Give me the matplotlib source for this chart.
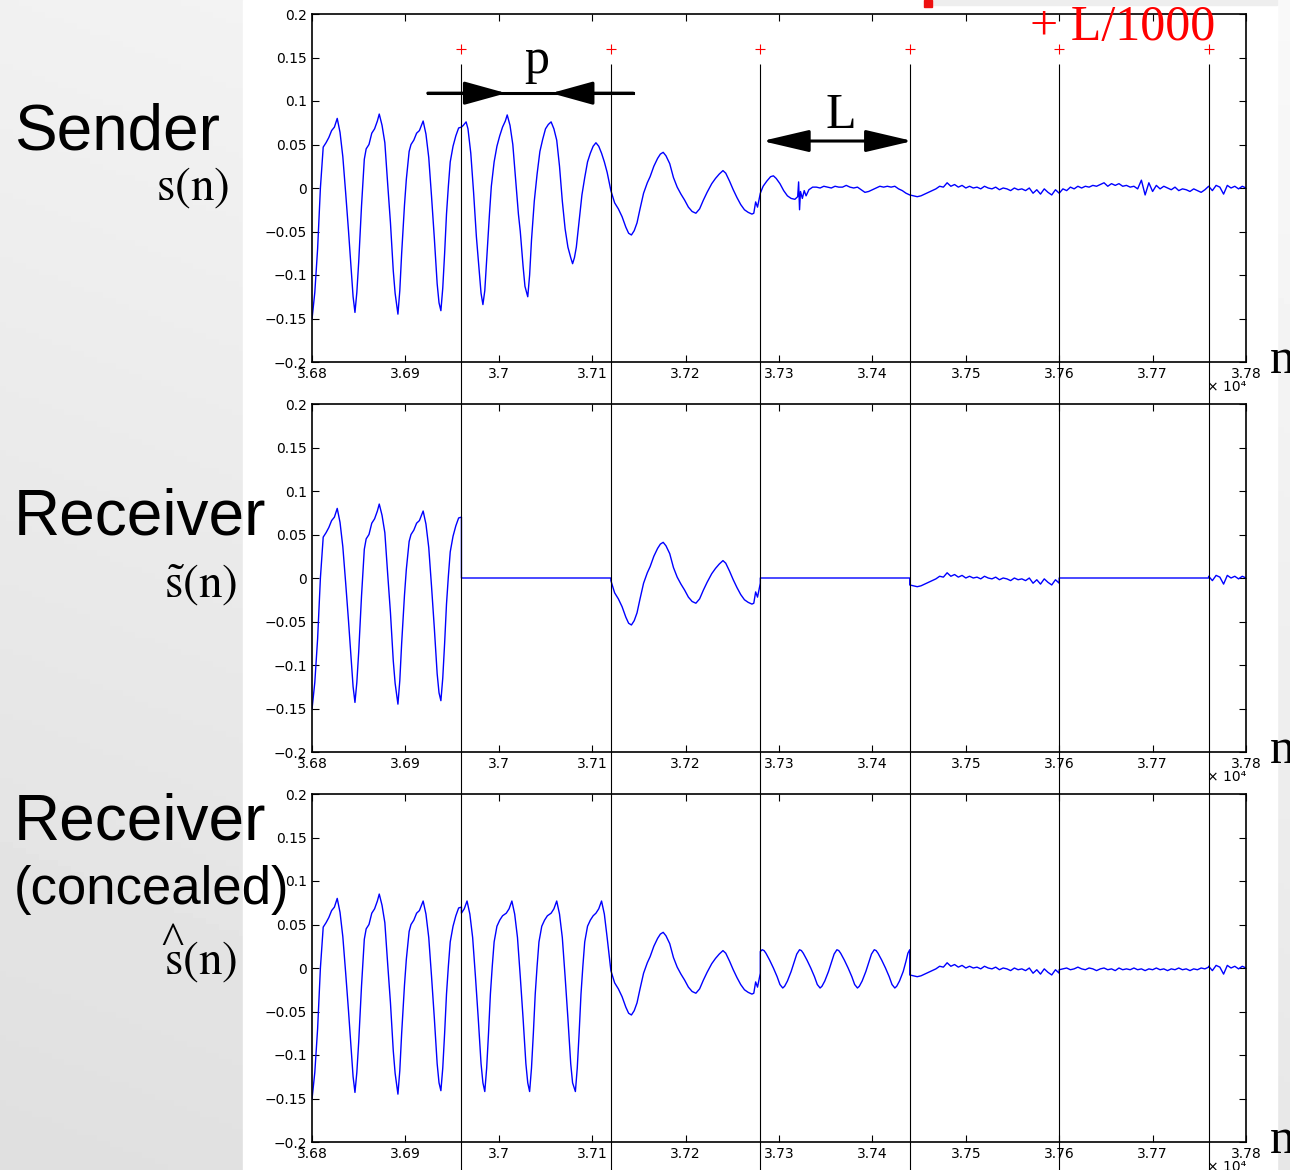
import numpy as np
import matplotlib
matplotlib.use('Agg')
import matplotlib.pyplot as plt
from matplotlib.patches import Rectangle

plt.rcParams['mathtext.fontset'] = 'stix'

# frame borders in samples, frames 1, 3 and 5 are lost in transmission
frame_edges = [36800, 36960, 37120, 37280, 37440, 37600, 37760, 37800]
lost_frames = [1, 3, 5]

# sender signal s(n), voiced part
voiced_n = [36800, 36803, 36806, 36809, 36812, 36815, 36818, 36821, 36824, 36827,
            36830, 36833, 36836, 36839, 36842, 36844, 36846, 36848, 36850, 36853,
            36856, 36858, 36861, 36864, 36867, 36870, 36872, 36875, 36878, 36881,
            36884, 36887, 36889, 36892, 36894, 36896, 36899, 36901, 36904, 36906,
            36909, 36912, 36915, 36919, 36922, 36925, 36928, 36931, 36934, 36936,
            36938, 36940, 36942, 36944, 36946, 36948, 36951, 36954, 36957, 36960,
            36962, 36965, 36967, 36970, 36973, 36976, 36979, 36981, 36983, 36985,
            36987, 36990, 36992, 36995, 36998, 37001, 37004, 37007, 37009, 37012,
            37015, 37018, 37021, 37023, 37026, 37028, 37031, 37033, 37035, 37038,
            37041, 37044, 37047, 37050, 37053, 37056, 37059, 37062, 37065, 37068,
            37071, 37074, 37077, 37079, 37081, 37083, 37086, 37089, 37092, 37095,
            37098, 37101, 37104, 37107, 37110, 37113, 37116, 37120, 37124, 37128,
            37132, 37136, 37139, 37142, 37145, 37148, 37151, 37155, 37159, 37162,
            37166, 37170, 37173, 37176, 37179, 37183, 37187, 37191, 37195, 37199,
            37203, 37207, 37211, 37215, 37219, 37223, 37228, 37232, 37236, 37240,
            37243, 37247, 37251, 37255, 37259, 37263, 37267, 37271, 37273, 37275,
            37277, 37280, 37283, 37287, 37291, 37294, 37297, 37301, 37305, 37309,
            37313, 37317, 37320, 37321, 37322, 37323, 37325, 37327, 37329, 37332,
            37336]
voiced_y = [-0.151, -0.120, -0.070, 0.000, 0.047, 0.052, 0.058, 0.066, 0.070, 0.080,
            0.064, 0.036, -0.005, -0.048, -0.095, -0.125, -0.143, -0.120, -0.085, -0.021,
            0.033, 0.045, 0.050, 0.063, 0.068, 0.077, 0.085, 0.072, 0.052, 0.005,
            -0.040, -0.095, -0.121, -0.145, -0.118, -0.075, -0.020, 0.010, 0.042, 0.050,
            0.055, 0.063, 0.066, 0.077, 0.062, 0.035, -0.010, -0.058, -0.110, -0.132,
            -0.141, -0.115, -0.075, -0.030, 0.002, 0.030, 0.048, 0.060, 0.069, 0.070,
            0.072, 0.076, 0.068, 0.040, -0.005, -0.056, -0.095, -0.121, -0.134, -0.118,
            -0.083, -0.030, 0.002, 0.030, 0.048, 0.060, 0.070, 0.077, 0.084, 0.072,
            0.050, 0.010, -0.030, -0.050, -0.090, -0.113, -0.125, -0.100, -0.060, -0.015,
            0.016, 0.042, 0.056, 0.068, 0.073, 0.076, 0.068, 0.055, 0.025, -0.015,
            -0.047, -0.068, -0.080, -0.087, -0.080, -0.068, -0.038, -0.008, 0.012, 0.030,
            0.040, 0.048, 0.052, 0.048, 0.040, 0.030, 0.018, -0.003, -0.017, -0.024,
            -0.033, -0.045, -0.052, -0.054, -0.049, -0.040, -0.025, -0.006, 0.006, 0.013,
            0.025, 0.034, 0.039, 0.041, 0.037, 0.028, 0.012, 0.001, -0.007, -0.014,
            -0.022, -0.027, -0.029, -0.024, -0.014, -0.005, 0.005, 0.011, 0.016, 0.020,
            0.017, 0.008, -0.002, -0.011, -0.019, -0.025, -0.028, -0.030, -0.029, -0.016,
            -0.022, -0.006, 0.002, 0.008, 0.013, 0.014, 0.011, 0.005, -0.003, -0.009,
            -0.012, -0.013, -0.010, 0.007, -0.025, -0.004, -0.012, -0.003, -0.009, -0.002,
            0.001]

# unvoiced / noise part of s(n), every 4th sample from 37340
noise_n = np.arange(37340, 37801, 4)
noise_y = [0.001, 0.000, 0.002, 0.001, 0.000, 0.002, 0.001, 0.001, 0.003, 0.001,
           0.000, 0.001, -0.002, -0.005, -0.004, -0.002, 0.000, 0.002, 0.001, 0.002,
           0.001, 0.002, -0.001, -0.003, -0.006, -0.008, -0.009, -0.010, -0.009, -0.007,
           -0.005, -0.003, -0.001, 0.002, 0.001, 0.006, 0.002, 0.004, 0.001, 0.003,
           0.000, 0.002, 0.000, 0.001, -0.001, 0.002, 0.000, -0.001, 0.001, -0.002,
           0.000, -0.001, -0.003, 0.000, -0.002, -0.001, -0.003, 0.000, -0.006, -0.002,
           -0.007, -0.001, -0.005, -0.008, -0.002, -0.006, -0.001, -0.003, 0.001, -0.001,
           0.002, 0.000, 0.002, 0.001, 0.003, 0.002, 0.004, 0.006, 0.002, 0.005,
           0.003, 0.005, 0.002, 0.003, 0.001, 0.002, -0.001, 0.009, -0.008, 0.006,
           -0.004, 0.003, -0.001, 0.002, 0.000, -0.002, 0.001, -0.003, -0.001, -0.002,
           -0.004, -0.001, -0.003, -0.005, -0.002, 0.002, -0.003, 0.003, 0.001, -0.007,
           0.003, 0.000, 0.002, -0.001, 0.002, 0.000]

# concealment (pitch repetition) inside the lost frames
conceal1_n = [36960, 36963, 36966, 36969, 36972, 36975, 36978, 36981, 36983, 36985,
              36987, 36989, 36991, 36993, 36995, 36998, 37001, 37004, 37008, 37011,
              37014, 37017, 37020, 37023, 37026, 37029, 37031, 37033, 37035, 37037,
              37039, 37041, 37043, 37046, 37049, 37052, 37056, 37059, 37062, 37065,
              37068, 37071, 37074, 37077, 37079, 37082, 37084, 37086, 37088, 37090,
              37092, 37095, 37098, 37101, 37104, 37107, 37110, 37113, 37116, 37120]
conceal1_y = [0.063, 0.068, 0.077, 0.062, 0.035, -0.010, -0.058, -0.110, -0.132, -0.142,
              -0.115, -0.075, -0.030, 0.002, 0.030, 0.048, 0.055, 0.060, 0.063, 0.068,
              0.077, 0.062, 0.035, -0.010, -0.058, -0.110, -0.132, -0.142, -0.115, -0.075,
              -0.030, 0.002, 0.030, 0.048, 0.055, 0.060, 0.063, 0.068, 0.077, 0.062,
              0.035, -0.010, -0.058, -0.110, -0.132, -0.142, -0.115, -0.075, -0.030, 0.002,
              0.030, 0.048, 0.055, 0.060, 0.063, 0.068, 0.077, 0.062, 0.035, -0.003]
conceal2_n = [37280, 37282, 37284, 37286, 37290, 37294, 37298, 37301, 37304, 37306,
              37309, 37313, 37316, 37319, 37322, 37324, 37326, 37330, 37334, 37338,
              37341, 37344, 37346, 37349, 37353, 37356, 37359, 37362, 37364, 37366,
              37370, 37374, 37378, 37381, 37384, 37386, 37389, 37393, 37396, 37399,
              37402, 37404, 37406, 37410, 37414, 37418, 37421, 37424, 37426, 37429,
              37433, 37436, 37438, 37440]
conceal2_y = [0.019, 0.021, 0.020, 0.017, 0.009, 0.000, -0.010, -0.019, -0.023, -0.021,
              -0.015, -0.004, 0.006, 0.016, 0.021, 0.020, 0.017, 0.009, 0.000, -0.010,
              -0.019, -0.023, -0.021, -0.015, -0.004, 0.006, 0.016, 0.021, 0.020, 0.017,
              0.009, 0.000, -0.010, -0.019, -0.023, -0.021, -0.015, -0.004, 0.006, 0.016,
              0.021, 0.020, 0.017, 0.009, 0.000, -0.010, -0.019, -0.023, -0.021, -0.015,
              -0.004, 0.008, 0.017, 0.021]
conceal3_n = np.arange(37600, 37761, 4)
conceal3_y = [-0.002, -0.001, 0.000, -0.002, -0.001, 0.001, -0.001, -0.002, 0.000, -0.001,
              -0.003, -0.001, 0.000, -0.002, -0.001, -0.003, 0.000, -0.002, -0.001, -0.002,
              0.000, -0.002, -0.001, -0.003, -0.001, -0.002, 0.000, -0.002, -0.001, -0.003,
              -0.001, -0.002, 0.000, -0.002, -0.001, -0.003, -0.001, -0.002, 0.000, -0.001,
              0.001]

xticks = np.arange(36800, 37801, 100)
xtick_labels = ['3.68', '3.69', '3.7', '3.71', '3.72', '3.73', '3.74', '3.75', '3.76', '3.77', '3.78']
yticks = [-0.2, -0.15, -0.1, -0.05, 0, 0.05, 0.1, 0.15, 0.2]
ytick_labels = ['\u22120.2', '\u22120.15', '\u22120.1', '\u22120.05', '0', '0.05', '0.1', '0.15', '0.2']

# build the three signals
sender_n = np.concatenate([voiced_n, noise_n])
sender_y = np.concatenate([voiced_y, noise_y])
concealed = {1: (conceal1_n, conceal1_y), 3: (conceal2_n, conceal2_y), 5: (conceal3_n, conceal3_y)}

recv_n, recv_y, conc_n, conc_y = [], [], [], []
for i in range(len(frame_edges) - 1):
    a, b = frame_edges[i], frame_edges[i + 1]
    if i in lost_frames:
        recv_n += [a, b]
        recv_y += [0, 0]
        conc_n += list(concealed[i][0])
        conc_y += list(concealed[i][1])
    else:
        m = (sender_n >= a) & (sender_n <= b)
        recv_n += list(sender_n[m])
        recv_y += list(sender_y[m])
        conc_n += list(sender_n[m])
        conc_y += list(sender_y[m])

W, H = 1290, 1170
fig = plt.figure(figsize=(W / 100, H / 100), dpi=100)

def fx(px):
    return px / W

def fy(py):
    return 1 - py / H

# slide background
bg = fig.add_axes([0, 0, 1, 1], zorder=-5)
gx, gy = np.meshgrid(np.linspace(0, 1, 200), np.linspace(0, 1, 200))
grad = 0.975 - 0.07 * gy - 0.03 * (1 - gx)
bg.imshow(grad, cmap='gray', vmin=0, vmax=1, extent=[0, W, H, 0], aspect='auto')
bg.add_patch(Rectangle((243, 0), 1034, H, color='white'))
bg.add_patch(Rectangle((933, 0), 344, 5, color='#eeeeee'))
bg.add_patch(Rectangle((924, 0), 8, 7, color='#ee1111'))
bg.set_xlim(0, W)
bg.set_ylim(H, 0)
bg.axis('off')

left, width, height = fx(312), 934 / W, 348 / H
bottoms = [fy(362), fy(752), fy(1142)]
signals = [(sender_n, sender_y), (recv_n, recv_y), (conc_n, conc_y)]

axes = []
for bottom, (n, y) in zip(bottoms, signals):
    ax = fig.add_axes([left, bottom, width, height])
    ax.plot(n, y, color='#0000ff', lw=1.0)
    ax.set_xlim(36800, 37800)
    ax.set_ylim(-0.2, 0.2)
    ax.set_xticks(xticks)
    ax.set_xticklabels(xtick_labels)
    ax.set_yticks(yticks)
    ax.set_yticklabels(ytick_labels)
    ax.tick_params(direction='in', top=True, right=True, length=5, width=0.8,
                   labelsize=10, pad=3.5)
    for sp in ax.spines.values():
        sp.set_linewidth(1.2)
    ax.text(1.0, -0.072, '\u00d7 10\u2074', transform=ax.transAxes, ha='right',
            va='center', fontsize=10)
    axes.append(ax)

ax1 = axes[0]
ax1.plot(frame_edges[1:-1], [0.16] * 6, '+', color='red', ms=7, mew=0.8)

# p arrow (pitch period) and L arrow (frame length)
pk = dict(arrowstyle='-|>,head_length=2.6,head_width=0.72', mutation_scale=10,
          color='black', lw=2.2, shrinkA=0, shrinkB=0)
ax1.plot([36924, 37144], [0.109, 0.109], color='black', lw=2.2)
ax1.annotate('', xy=(37008, 0.109), xytext=(36924, 0.109), arrowprops=pk)
ax1.annotate('', xy=(37056, 0.109), xytext=(37144, 0.109), arrowprops=pk)
ax1.text(37041, 0.132, 'p', ha='center', va='baseline', fontsize=36, family='Liberation Serif')
lk = dict(arrowstyle='<|-|>,head_length=2.9,head_width=0.68', mutation_scale=10,
          color='black', lw=2.2, shrinkA=0, shrinkB=0)
ax1.annotate('', xy=(37443, 0.054), xytext=(37282, 0.054), arrowprops=lk)
ax1.text(37366, 0.069, 'L', ha='center', va='baseline', fontsize=36, family='Liberation Serif')

# frame boundary lines running through all panels
ov = fig.add_axes([left, 0, width, fy(64)], zorder=5)
ov.vlines(frame_edges[1:-1], 0, 1, colors='black', lw=0.8)
ov.set_xlim(36800, 37800)
ov.set_ylim(0, 1)
ov.axis('off')

sans = 'Liberation Sans'
serif = 'Liberation Serif'
fig.text(fx(14), fy(150), 'Sender', fontsize=46, family=sans, va='baseline')
fig.text(fx(229), fy(200), r'$\mathrm{s(n)}$', fontsize=34, ha='right', va='baseline')
fig.text(fx(14), fy(535), 'Receiver', fontsize=46, family=sans, va='baseline')
fig.text(fx(237), fy(597), r'$\tilde{\mathrm{s}}\mathrm{(n)}$', fontsize=34, ha='right', va='baseline')
fig.text(fx(14), fy(839), 'Receiver', fontsize=46, family=sans, va='baseline')
fig.text(fx(14), fy(904), '(concealed)', fontsize=38, family=sans, va='baseline')
fig.text(fx(237), fy(974), r'$\mathrm{s(n)}$', fontsize=34, ha='right', va='baseline')
fig.text(fx(172), fy(954), '^', fontsize=34, family=serif, ha='center', va='baseline')
for py in [373, 763, 1153]:
    fig.text(fx(1270), fy(py), 'n', fontsize=36, family=serif, va='baseline')
fig.text(fx(1030), fy(40), '+ L/1000', fontsize=36, family=serif, color='#ff0000', va='baseline')

fig.savefig('out.png', dpi=100)
